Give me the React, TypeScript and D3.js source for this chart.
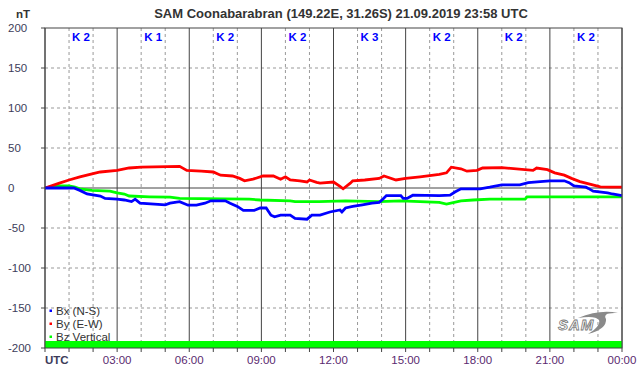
import React from "react";
import * as d3 from "d3";

const TITLE = "SAM Coonabarabran (149.22E, 31.26S) 21.09.2019 23:58 UTC";
const kIndex = ["K 2", "K 1", "K 2", "K 2", "K 3", "K 2", "K 2", "K 2"];
const yTicks = [200, 150, 100, 50, 0, -50, -100, -150, -200];
const xTickLabels = ["UTC", "03:00", "06:00", "09:00", "12:00", "15:00", "18:00", "21:00", "00:00"];

const byHours = [0, 0.6, 1.0, 1.45, 2.0, 2.3, 3.0, 3.5, 4.0, 5.6, 5.9, 6.5, 7.0, 7.3, 7.8, 8.1, 8.3, 8.65, 9.07, 9.5, 9.8, 10.0, 10.2, 10.6, 10.9, 11.0, 11.3, 11.44, 12.0, 12.27, 12.4, 12.7, 12.8, 13.3, 13.9, 14.1, 14.6, 15.0, 15.6, 16.4, 16.7, 16.9, 17.3, 17.55, 17.97, 18.2, 19.0, 20.3, 20.45, 20.9, 21.2, 21.6, 21.9, 22.25, 22.7, 23.1, 23.5, 24];
const byValues = [0, 6, 10, 14, 18, 20, 22, 25, 26, 27, 22, 21, 20, 16, 15, 12, 9, 11, 15, 15, 11, 14, 10, 9, 7.5, 10, 7, 6, 7.5, 2, -1, 6, 9, 10, 12, 15, 10, 12, 14, 17, 19, 26, 24, 21, 22, 25, 25.5, 22, 25, 23, 19, 16, 12, 8, 4.5, 1.5, 1, 1];

const bxHours = [0, 1.2, 1.45, 1.75, 2.3, 2.5, 3.0, 3.3, 3.6, 3.75, 3.95, 5.0, 5.2, 5.6, 5.95, 6.3, 6.65, 6.9, 7.5, 7.7, 8.0, 8.25, 8.7, 8.95, 9.2, 9.4, 9.55, 9.8, 10.2, 10.4, 10.9, 11.1, 11.44, 11.85, 12.27, 12.35, 12.5, 12.8, 13.2, 13.6, 13.9, 14.05, 14.2, 14.8, 14.9, 15.06, 15.3, 16.4, 16.85, 17.05, 17.3, 18.1, 18.5, 19.0, 19.75, 20.1, 20.6, 21.0, 21.6, 21.8, 22.0, 22.5, 22.6, 22.8, 23.4, 23.6, 24];
const bxValues = [0, 0, -3, -7.5, -10, -13, -14, -15, -17, -14, -19, -21, -19, -17, -21.5, -21.5, -19, -16, -16, -19, -23, -28, -28, -25, -25, -34, -36, -34, -34, -38, -39, -34, -34, -30, -27.5, -30, -25, -23, -21, -19, -18, -14, -9.5, -9.5, -13, -13, -9, -9.5, -9, -5, -1, -1, 1, 4, 4, 6.7, 8, 9, 9, 6.7, 2.5, 1, -0.5, -4, -6, -7.5, -9.5];

const bzHours = [0, 0.4, 1.0, 1.25, 1.45, 1.95, 2.7, 3.0, 3.3, 3.5, 4.35, 5.2, 5.6, 6.45, 8.5, 8.95, 10.2, 10.4, 11.4, 12.5, 13.9, 14.8, 16.4, 16.7, 17.3, 17.8, 18.5, 19.97, 20.05, 24];
const bzValues = [0, 2.5, 2.5, 1, -1, -3, -4, -6, -7.5, -10, -11, -11.5, -13, -13.3, -14, -15, -16, -17, -17, -16, -17, -16, -18, -20, -16, -15, -14, -14, -11, -11];

const legendLabels = ["Bx (N-S)", "By (E-W)", "Bz Vertical"];
const seriesColors = ["#0000ff", "#ff0000", "#00ff00"];

const W = 642, H = 376;
const L = 45, R = 622, T = 28, B = 348;

export default function App() {
  const x = d3.scaleLinear().domain([0, 24]).range([L, R]);
  const y = d3.scaleLinear().domain([-200, 200]).range([B, T]);
  const line = d3.line<[number, number]>().x(d => x(d[0])).y(d => y(d[1]));
  const series = [
    { h: bxHours, v: bxValues, c: seriesColors[0] },
    { h: byHours, v: byValues, c: seriesColors[1] },
    { h: bzHours, v: bzValues, c: seriesColors[2] },
  ];
  const hours = d3.range(0, 25);
  const font = "Arial, 'Liberation Sans', sans-serif";
  return (
    <svg width={W} height={H} style={{ position: "absolute", left: 0, top: 0, background: "#fff" }} fontFamily={font}>
      <rect x={0} y={0} width={W} height={H} fill="#fff" />
      <text x={341} y={18} textAnchor="middle" fontSize={13} fontWeight="bold" fill="#333">{TITLE}</text>
      <text x={16} y={18} fontSize={11.5} fontWeight="bold" fill="#333">nT</text>
      {hours.filter(h => h % 3 !== 0).map(h => (
        <line key={"vh" + h} x1={x(h)} x2={x(h)} y1={T} y2={B} stroke="#999" strokeDasharray="3,3" />
      ))}
      {yTicks.filter(v => v !== 0 && Math.abs(v) !== 200).map(v => (
        <line key={"hg" + v} x1={L} x2={R} y1={y(v)} y2={y(v)} stroke="#999" strokeDasharray="3,3" />
      ))}
      {hours.filter(h => h % 3 === 0).map(h => (
        <line key={"vs" + h} x1={x(h)} x2={x(h)} y1={T} y2={B} stroke="#444" />
      ))}
      <line x1={L} x2={R} y1={y(0)} y2={y(0)} stroke="#444" />
      <rect x={L} y={341} width={R - L} height={B - 341} fill="#00ff00" />
      {series.slice().reverse().map((s, i) => (
        <path key={"s" + i} d={line(s.h.map((h, j) => [h, s.v[j]] as [number, number])) || ""} fill="none" stroke={s.c} strokeWidth={2.8} strokeLinejoin="miter" />
      ))}
      <rect x={L} y={T} width={R - L} height={B - T} fill="none" stroke="#444" />
      {yTicks.map(v => (
        <g key={"yt" + v}>
          <line x1={L - 4} x2={L} y1={y(v)} y2={y(v)} stroke="#444" />
          <text x={8} y={y(v) + 4} fontSize={11.5} fill="#3c3c5a">{v}</text>
        </g>
      ))}
      {hours.map(h => (
        <line key={"xt" + h} x1={x(h)} x2={x(h)} y1={B} y2={B + 4} stroke="#444" />
      ))}
      {xTickLabels.map((lab, i) => (
        i === 0 ? (
          <text key={"xl" + i} x={L} y={364} fontSize={11.5} fontWeight="bold" fill="#3c3c5a">{lab}</text>
        ) : (
          <text key={"xl" + i} x={x(i * 3)} y={364} fontSize={11.5} textAnchor="middle" fill="#5a2a70">{lab}</text>
        )
      ))}
      {kIndex.map((k, i) => (
        <text key={"k" + i} x={x(i * 3 + 1.5)} y={41} textAnchor="middle" fontSize={11.5} fontWeight="bold" fill="#0000ff">{k}</text>
      ))}
      {legendLabels.map((lab, i) => (
        <g key={"lg" + i}>
          <rect x={49.5} y={309.5 + i * 13} width={2.5} height={2.5} fill={seriesColors[i]} />
          <text x={56} y={314.5 + i * 13} fontSize={11.5} fill="#333">{lab}</text>
        </g>
      ))}
      <g>
        <path d="M 578 318 Q 600 309 618 313 Q 602 312 606 319 Q 607 329 588 334 Q 601 326 599 320 Q 595 315 578 318 Z" fill="#8a8a8a" />
        <text x={558} y={330} fontSize={15} fontStyle="italic" fontWeight="bold" fill="#fff" stroke="#777" strokeWidth={0.8} letterSpacing={1}>SAM</text>
      </g>
    </svg>
  );
}
